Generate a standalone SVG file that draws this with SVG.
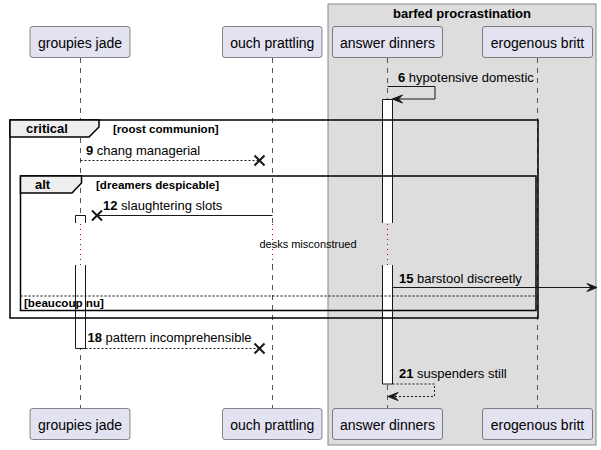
<svg xmlns="http://www.w3.org/2000/svg" width="601" height="450" viewBox="0 0 601 450">
<style>
text{font-family:"Liberation Sans",Arial,sans-serif;fill:#000}
.pbox{fill:#E2E2F0;stroke:#181818;stroke-width:0.5}
.ptxt{font-size:14px;text-anchor:middle}
.life{stroke:#555;stroke-width:1;stroke-dasharray:5 5;fill:none}
.dly{stroke:#A80036;stroke-width:1;stroke-dasharray:1 4;fill:none}
.act{fill:#fff;stroke:#181818;stroke-width:1}
.msg{stroke:#181818;stroke-width:1;fill:none}
.dash{stroke-dasharray:2 2}
.mt{font-size:13px}
.b{font-weight:bold}
.frame{fill:none;stroke:#000;stroke-width:1.5}
.tab{fill:#EEEEEE;stroke:#000;stroke-width:1.5}
.ft{font-size:13px;font-weight:bold}
.gt{font-size:11.6px;font-weight:bold}
.x{stroke:#181818;stroke-width:2}
.head{fill:#181818;stroke:#181818;stroke-width:1}
</style>
<g id="box-barfed">
<rect x="328" y="4" width="268" height="441" fill="#DDDDDD" stroke="#888" stroke-width="1"/>
<text x="462" y="18" class="ft" text-anchor="middle">barfed procrastination</text>
</g>
<g id="lifelines">
<path class="life" d="M80.5 58V223M80.5 265V408M272.5 58V223M272.5 265V408M387.5 58V223M387.5 265V408M537.5 58V223M537.5 265V408"/>
<path class="dly" d="M80.5 224V265M272.5 224V265M387.5 224V265M537.5 224V265"/>
</g>
<g id="p-groupies-top"><rect class="pbox" x="30" y="26.5" width="100" height="31" rx="2.5"/><text class="ptxt" x="80" y="47.5">groupies jade</text></g>
<g id="p-ouch-top"><rect class="pbox" x="222.5" y="26.5" width="99.5" height="31" rx="2.5"/><text class="ptxt" x="272.3" y="47.5">ouch prattling</text></g>
<g id="p-answer-top"><rect class="pbox" x="332.5" y="26.5" width="110" height="31" rx="2.5"/><text class="ptxt" x="387.5" y="47.5">answer dinners</text></g>
<g id="p-erogenous-top"><rect class="pbox" x="482.5" y="26.5" width="110" height="31" rx="2.5"/><text class="ptxt" x="537.5" y="47.5">erogenous britt</text></g>
<g id="p-groupies-bottom"><rect class="pbox" x="30" y="408.5" width="100" height="31" rx="2.5"/><text class="ptxt" x="80" y="429.5">groupies jade</text></g>
<g id="p-ouch-bottom"><rect class="pbox" x="222.5" y="408.5" width="99.5" height="31" rx="2.5"/><text class="ptxt" x="272.3" y="429.5">ouch prattling</text></g>
<g id="p-answer-bottom"><rect class="pbox" x="332.5" y="408.5" width="110" height="31" rx="2.5"/><text class="ptxt" x="387.5" y="429.5">answer dinners</text></g>
<g id="p-erogenous-bottom"><rect class="pbox" x="482.5" y="408.5" width="110" height="31" rx="2.5"/><text class="ptxt" x="537.5" y="429.5">erogenous britt</text></g>
<g id="activations">
<path class="act" d="M382.5 223V99.5H392.5V223"/>
<path class="act" d="M382.5 265V384H392.5V265"/>
<path class="act" d="M75.5 223V215.5H85.5V223"/>
<path class="act" d="M75.5 265V348.5H85.5V265"/>
</g>
<g id="frame-critical">
<rect class="frame" x="10" y="120" width="528" height="198"/>
<path class="tab" d="M10 120H99V127L89 137H10Z"/>
<text class="ft" x="26" y="133">critical</text>
<text class="gt" x="113" y="133">[roost communion]</text>
</g>
<g id="frame-alt">
<rect class="frame" x="20.5" y="176" width="515.5" height="134.5"/>
<path class="tab" d="M20.5 176H81.5V183L72 193H20.5Z"/>
<text class="ft" x="35" y="189">alt</text>
<text class="gt" x="96" y="189">[dreamers despicable]</text>
<line x1="20.5" y1="296" x2="536" y2="296" stroke="#000" stroke-width="1" stroke-dasharray="2 2"/>
<text class="gt" x="24" y="307">[beaucoup nu]</text>
</g>
<g id="connectors">
<path class="msg" d="M387.5 86.5H435V99H392.5"/>
<polygon class="head" points="392.5,99 402.5,95 398.5,99 402.5,103"/>
<text class="mt" x="398" y="81.5"><tspan class="b">6</tspan> hypotensive domestic</text>
<line class="msg dash" x1="80.5" y1="160.5" x2="259" y2="160.5"/>
<path class="x" d="M254.5 155.5L264.5 165.5M264.5 155.5L254.5 165.5"/>
<text class="mt" x="86" y="155"><tspan class="b">9</tspan> chang managerial</text>
<line class="msg" x1="272.5" y1="215.5" x2="97" y2="215.5"/>
<path class="x" d="M92 210.5L102 220.5M102 210.5L92 220.5"/>
<text class="mt" x="103" y="210"><tspan class="b">12</tspan> slaughtering slots</text>
<text x="308" y="248" font-size="11" text-anchor="middle">desks misconstrued</text>
<line class="msg" x1="392.5" y1="287.5" x2="596" y2="287.5"/>
<polygon class="head" points="597,287.5 587,283.5 591,287.5 587,291.5"/>
<text class="mt" x="399" y="282.5"><tspan class="b">15</tspan> barstool discreetly</text>
<line class="msg dash" x1="85.5" y1="348.5" x2="259" y2="348.5"/>
<path class="x" d="M254.5 343.5L264.5 353.5M264.5 343.5L254.5 353.5"/>
<text class="mt" x="87.5" y="342"><tspan class="b">18</tspan> pattern incomprehensible</text>
<path class="msg dash" d="M392.5 384H434.5V396.5H388"/>
<polygon class="head" points="388,396.5 398,392.5 394,396.5 398,400.5"/>
<text class="mt" x="399" y="378"><tspan class="b">21</tspan> suspenders still</text>
</g>
</svg>
